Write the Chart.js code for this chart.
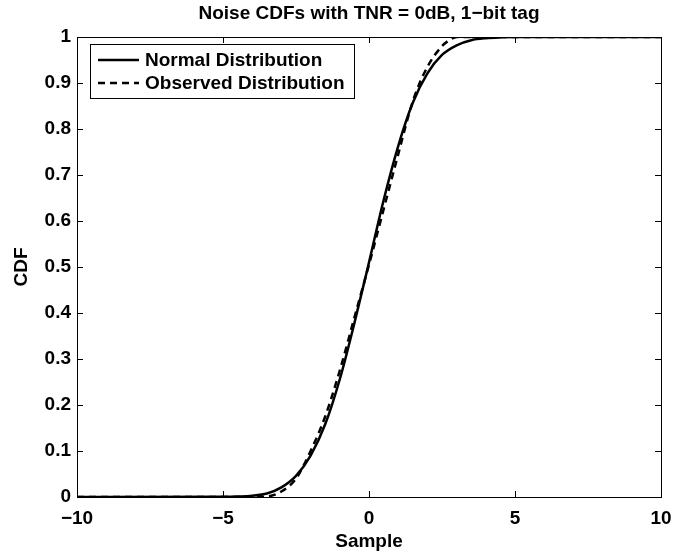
<!DOCTYPE html>
<html>
<head>
<meta charset="utf-8">
<script src="https://cdn.jsdelivr.net/npm/chart.js@4.4.1/dist/chart.umd.min.js"></script>
<style>
  html, body { margin: 0; padding: 0; background: #fff; }
  #wrap { width: 698px; height: 553px; }
</style>
</head>
<body>
<div id="wrap"><canvas id="chart"></canvas></div>
<script>
// values
const sampleX = [-10, -5, -4.5, -4, -3.5, -3, -2.5, -2, -1.5, -1, -0.5, 0, 0.5, 1, 1.5, 2, 2.5, 3, 3.5, 4, 4.5, 5, 10];
const normalCdf = [0, 0.0003, 0.0009, 0.0026, 0.0075, 0.021, 0.046, 0.09, 0.158, 0.256, 0.378, 0.51, 0.645, 0.763, 0.857, 0.921, 0.961, 0.982, 0.993, 0.9974, 0.9992, 0.9998, 1];

const observedX = [-10, -4, -3.5, -3, -2.5, -2, -1.5, -1, -0.5, 0, 0.5, 1, 1.5, 2, 2.5, 2.8, 3, 10];
const observedCdf = [0, 0, 0.001, 0.012, 0.04, 0.1, 0.175, 0.275, 0.39, 0.505, 0.625, 0.745, 0.86, 0.935, 0.98, 0.995, 1, 1];

const xTicks = [-10, -5, 0, 5, 10];
const seriesNames = ["Normal Distribution", "Observed Distribution"];

const FONT = "'Liberation Sans', Arial, Helvetica, sans-serif";
const FSIZE = 19;

function toPoints(xs, ys) {
  return xs.map((x, i) => ({ x, y: ys[i] }));
}

// box + inward ticks like the original figure
const framePlugin = {
  id: "frame",
  afterDraw(chart) {
    const { ctx, chartArea: a, scales } = chart;
    ctx.save();
    ctx.strokeStyle = "#000";
    ctx.lineWidth = 1;
    ctx.strokeRect(a.left + 0.5, a.top + 0.5, a.right - a.left, a.bottom - a.top);
    const len = 6;
    ctx.beginPath();
    xTicks.forEach(v => {
      const px = Math.round(scales.x.getPixelForValue(v)) + 0.5;
      ctx.moveTo(px, a.bottom); ctx.lineTo(px, a.bottom - len);
      ctx.moveTo(px, a.top); ctx.lineTo(px, a.top + len);
    });
    scales.y.ticks.forEach(t => {
      const py = Math.round(scales.y.getPixelForValue(t.value)) + 0.5;
      ctx.moveTo(a.left, py); ctx.lineTo(a.left + len, py);
      ctx.moveTo(a.right, py); ctx.lineTo(a.right - len, py);
    });
    ctx.stroke();
    ctx.restore();
  }
};

// legend box inside the plot, top left
const legendPlugin = {
  id: "boxLegend",
  afterDraw(chart) {
    const { ctx } = chart;
    const bx = 90, by = 44, bw = 264, bh = 54;
    ctx.save();
    ctx.fillStyle = "#fff";
    ctx.fillRect(bx, by, bw, bh);
    ctx.strokeStyle = "#000";
    ctx.lineWidth = 1;
    ctx.strokeRect(bx + 0.5, by + 0.5, bw, bh);
    ctx.font = "bold " + FSIZE + "px " + FONT;
    ctx.textBaseline = "middle";
    ctx.fillStyle = "#000";
    chart.data.datasets.forEach((ds, i) => {
      const y = by + 16 + i * 23;
      ctx.beginPath();
      ctx.setLineDash(ds.borderDash || []);
      ctx.lineWidth = ds.borderWidth;
      ctx.strokeStyle = ds.borderColor;
      ctx.moveTo(98, y);
      ctx.lineTo(139, y);
      ctx.stroke();
      ctx.setLineDash([]);
      ctx.fillText(ds.label, 145, y + 1);
    });
    ctx.restore();
  }
};

new Chart(document.getElementById("chart"), {
  type: "line",
  data: {
    datasets: [
      {
        label: seriesNames[0],
        data: toPoints(sampleX, normalCdf),
        borderColor: "#000",
        borderWidth: 2.5,
        pointRadius: 0,
        cubicInterpolationMode: "monotone"
      },
      {
        label: seriesNames[1],
        data: toPoints(observedX, observedCdf),
        borderColor: "#000",
        borderWidth: 2.5,
        borderDash: [7, 5],
        pointRadius: 0,
        cubicInterpolationMode: "monotone"
      }
    ]
  },
  plugins: [framePlugin, legendPlugin],
  options: {
    responsive: true,
    maintainAspectRatio: false,
    animation: false,
    layout: { padding: { left: 0, right: 37, top: 0, bottom: 0 } },
    plugins: {
      legend: { display: false },
      tooltip: { enabled: false },
      title: {
        display: true,
        fullSize: false,
        text: "Noise CDFs with TNR = 0dB, 1\u2212bit tag",
        color: "#000",
        font: { family: FONT, size: FSIZE, weight: "bold" },
        padding: { top: 2, bottom: 12.2 }
      }
    },
    scales: {
      x: {
        type: "linear",
        min: -10,
        max: 10,
        afterFit(s) { s.height = 56; },
        afterBuildTicks(s) { s.ticks = xTicks.map(v => ({ value: v })); },
        grid: { display: false, drawTicks: false },
        border: { display: false },
        ticks: {
          color: "#000",
          padding: 10,
          font: { family: FONT, size: FSIZE, weight: "bold" },
          callback: v => String(v).replace("-", "\u2212")
        },
        title: {
          display: true,
          text: "Sample",
          color: "#000",
          font: { family: FONT, size: FSIZE, weight: "bold" },
          padding: { top: 0, bottom: 0 }
        }
      },
      y: {
        min: 0,
        max: 1,
        afterFit(s) { s.width = 77; },
        grid: { display: false, drawTicks: false },
        border: { display: false },
        ticks: {
          stepSize: 0.1,
          color: "#000",
          padding: 6,
          font: { family: FONT, size: FSIZE, weight: "bold" },
          callback: v => String(Math.round(v * 10) / 10)
        },
        title: {
          display: true,
          text: "CDF",
          color: "#000",
          font: { family: FONT, size: FSIZE, weight: "bold" },
          padding: { top: 10, bottom: 0 }
        }
      }
    }
  }
});
</script>
</body>
</html>
